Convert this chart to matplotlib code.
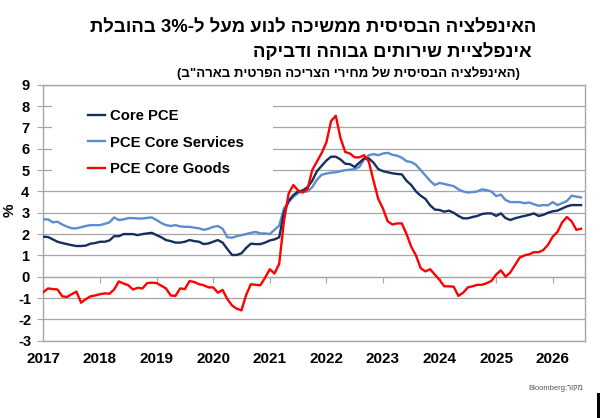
import re
import numpy as np
import matplotlib
matplotlib.use("Agg")
import matplotlib.pyplot as plt
from matplotlib.patches import Rectangle

plt.rcParams['font.family'] = ['Liberation Sans', 'DejaVu Sans']

############### DATA ###################
# monthly values, Jan 2017 onwards
core_pce = [1.88, 1.86, 1.75, 1.64, 1.58, 1.53, 1.48, 1.44, 1.44, 1.46, 1.55, 1.58,
            1.64, 1.64, 1.70, 1.90, 1.90, 2.00, 2.00, 2.00, 1.95, 2.00, 2.03, 2.06,
            1.95, 1.85, 1.72, 1.67, 1.60, 1.60, 1.64, 1.72, 1.67, 1.64, 1.53, 1.56,
            1.64, 1.72, 1.60, 1.30, 1.02, 1.02, 1.10, 1.35, 1.55, 1.53, 1.53, 1.60,
            1.70, 1.75, 1.85, 3.00, 3.55, 3.83, 4.00, 4.05, 4.20, 4.50, 4.95, 5.20,
            5.45, 5.63, 5.63, 5.50, 5.30, 5.28, 5.15, 5.35, 5.55, 5.55, 5.35, 5.05,
            4.95, 4.90, 4.85, 4.82, 4.80, 4.50, 4.30, 4.00, 3.80, 3.65, 3.35, 3.15,
            3.13, 3.05, 3.10, 3.00, 2.85, 2.74, 2.74, 2.80, 2.85, 2.94, 2.97, 2.97,
            2.85, 2.97, 2.75, 2.66, 2.74, 2.80, 2.85, 2.90, 2.97, 2.85, 2.90, 3.00,
            3.07, 3.10, 3.20, 3.30, 3.36, 3.36, 3.36]

core_services = [2.69, 2.69, 2.55, 2.58, 2.45, 2.35, 2.27, 2.27, 2.32, 2.38, 2.42, 2.42,
                 2.42, 2.48, 2.55, 2.78, 2.66, 2.69, 2.75, 2.75, 2.73, 2.73, 2.76, 2.78,
                 2.66, 2.52, 2.42, 2.38, 2.42, 2.36, 2.34, 2.34, 2.30, 2.27, 2.20, 2.25,
                 2.34, 2.38, 2.25, 1.85, 1.83, 1.90, 1.95, 2.00, 2.06, 2.10, 2.03, 2.03,
                 2.00, 2.20, 2.40, 3.20, 3.50, 3.75, 3.92, 4.00, 4.00, 4.20, 4.55, 4.78,
                 4.84, 4.88, 4.90, 4.95, 5.00, 5.02, 5.05, 5.15, 5.50, 5.70, 5.75, 5.70,
                 5.78, 5.81, 5.72, 5.68, 5.58, 5.42, 5.38, 5.25, 5.00, 4.75, 4.50, 4.30,
                 4.40, 4.35, 4.30, 4.25, 4.10, 4.00, 3.95, 3.97, 4.00, 4.10, 4.06, 4.00,
                 3.78, 3.85, 3.60, 3.50, 3.50, 3.50, 3.45, 3.48, 3.40, 3.33, 3.36, 3.35,
                 3.50, 3.36, 3.45, 3.55, 3.80, 3.76, 3.72]

core_goods = [-0.72, -0.55, -0.58, -0.60, -0.92, -0.95, -0.82, -0.70, -1.22, -1.05, -0.92, -0.88,
              -0.82, -0.78, -0.80, -0.60, -0.22, -0.32, -0.40, -0.60, -0.52, -0.55, -0.30, -0.28,
              -0.30, -0.42, -0.55, -0.88, -0.90, -0.55, -0.58, -0.20, -0.25, -0.35, -0.40, -0.50,
              -0.50, -0.75, -0.62, -1.05, -1.35, -1.50, -1.58, -0.85, -0.35, -0.38, -0.40, -0.05,
              0.35, 0.15, 0.60, 2.60, 3.90, 4.30, 4.05, 3.95, 4.10, 5.00, 5.40, 5.80,
              6.30, 7.30, 7.55, 6.50, 5.85, 5.78, 5.60, 5.60, 5.70, 5.40, 4.50, 3.65,
              3.20, 2.60, 2.45, 2.50, 2.50, 2.00, 1.40, 1.00, 0.40, 0.25, 0.35, 0.10,
              -0.15, -0.45, -0.45, -0.47, -0.90, -0.75, -0.50, -0.45, -0.38, -0.38, -0.30, -0.20,
              0.10, 0.30, 0.00, 0.20, 0.55, 0.90, 1.00, 1.05, 1.15, 1.15, 1.25, 1.50,
              1.88, 2.10, 2.55, 2.80, 2.60, 2.20, 2.25]

start_year = 2017
years = list(range(2017, 2027))
yticks = list(range(-3, 10))

title_1 = "האינפלציה הבסיסית ממשיכה לנוע מעל ל-3% בהובלת"
title_2 = "אינפלציית שירותים גבוהה ודביקה"
subtitle = '(האינפלציה הבסיסית של מחירי הצריכה הפרטית בארה"ב)'
source = "מקור:Bloomberg"
labels = ["Core PCE", "PCE Core Services", "PCE Core Goods"]


############### FUNCTIONS ###################
# matplotlib has no bidi: flip hebrew to visual order, keep numbers/latin LTR
def visual(s):
  r = s[::-1]
  r = re.sub(r'[0-9A-Za-z%.]+', lambda m: m.group(0)[::-1], r)
  return r.translate(str.maketrans('()', ')('))


############### PLOT ###################
grid_col = "#A6A6A6"
fig = plt.figure(figsize=(6, 4.18), dpi=100)
ax = fig.add_axes([0.0723, 0.185, 0.9027, 0.612])

t = start_year + np.arange(len(core_pce)) / 12.0
ax.plot(t, core_services, color="#5B8DCF", lw=1.7, label=labels[1], zorder=3)
ax.plot(t, core_pce, color="#14305F", lw=1.7, label=labels[0], zorder=4)
ax.plot(t, core_goods, color="#FF0000", lw=1.7, label=labels[2], zorder=5)

ax.set_xlim(2017, 2026.57)
ax.set_ylim(-3, 9)
ax.set_yticks(yticks)
ax.set_xticks(years)
ax.set_xticklabels([str(y) for y in years], fontsize=11, fontweight="bold")
ax.set_yticklabels([str(v) for v in yticks], fontsize=10.5, fontweight="bold")
for lab in ax.get_yticklabels():
  lab.set_ha("center")
ax.tick_params(axis="y", length=4, color=grid_col, pad=9)
ax.tick_params(axis="x", length=0, pad=8)
ax.set_axisbelow(True)
ax.grid(axis="y", color=grid_col, lw=0.9)
for sp in ax.spines.values():
  sp.set_color(grid_col)
  sp.set_linewidth(1.0)

# excel style ticks on the zero line
sec = ax.secondary_xaxis((0 - (-3)) / 12.0)
sec.set_xticks(years[1:])
sec.tick_params(length=4, color=grid_col, labelbottom=False)
sec.spines["bottom"].set_color(grid_col)
sec.spines["bottom"].set_linewidth(0.9)

ax.set_ylabel("%", fontsize=11, fontweight="bold", labelpad=2)
ax.yaxis.set_label_coords(-0.049, 0.51)

# white box behind legend hides the grid
ax.add_patch(Rectangle((0.016, 0.617), 0.408, 0.352, transform=ax.transAxes,
                       facecolor="white", edgecolor="none", zorder=1))
h, l = ax.get_legend_handles_labels()
order = [1, 0, 2]
ax.legend([h[i] for i in order], [l[i] for i in order], loc="upper left",
          bbox_to_anchor=(0.068, 0.935), frameon=False, borderpad=0,
          prop={"size": 10.7, "weight": "bold"}, handlelength=1.2,
          handletextpad=0.3, labelspacing=0.85)

fig.text(536 / 600, 1 - 28 / 418, visual(title_1), ha="right", va="center",
         fontsize=13.3, fontweight="bold")
fig.text(532 / 600, 1 - 52 / 418, visual(title_2), ha="right", va="center",
         fontsize=13.3, fontweight="bold")
fig.text(520 / 600, 1 - 73 / 418, visual(subtitle), ha="right", va="center",
         fontsize=9.5, fontweight="bold")
fig.text(583 / 600, 1 - 389 / 418, visual(source), ha="right", va="center",
         fontsize=5.5, color="#555555")
fig.add_artist(Rectangle((597 / 600, 0), 3 / 600, 25 / 418, transform=fig.transFigure,
                         facecolor="black", edgecolor="none"))

plt.savefig("out.png", dpi=100)
